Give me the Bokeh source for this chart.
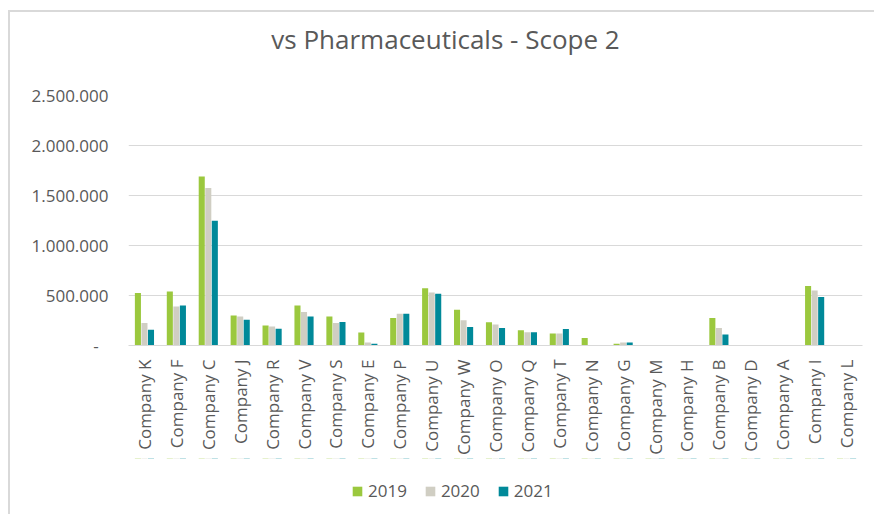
import math
from bokeh.plotting import figure
from bokeh.layouts import column
from bokeh.models import (ColumnDataSource, FactorRange, Range1d, FixedTicker,
                          CustomJSTickFormatter, Legend, LegendItem, Label)
from bokeh.transform import dodge
from bokeh.embed import file_html
from bokeh.resources import INLINE

companies = ["Company K", "Company F", "Company C", "Company J", "Company R", "Company V",
             "Company S", "Company E", "Company P", "Company U", "Company W", "Company O",
             "Company Q", "Company T", "Company N", "Company G", "Company M", "Company H",
             "Company B", "Company D", "Company A", "Company I", "Company L"]
v2019 = [524000, 540000, 1690000, 300000, 200000, 400000, 290000, 131000, 275000, 573000,
         358000, 232000, 152000, 119000, 76000, 17000, 3000, 3000, 275000, 3000, 3000, 596000, 3000]
v2020 = [224000, 390000, 1574000, 290000, 190000, 334000, 224000, 30000, 318000, 530000,
         252000, 209000, 132000, 119000, 3000, 30000, 3000, 3000, 176000, 3000, 3000, 550000, 3000]
v2021 = [157000, 400000, 1247000, 257000, 167000, 290000, 234000, 17000, 318000, 517000,
         186000, 176000, 132000, 166000, 3000, 30000, 3000, 3000, 109000, 3000, 3000, 484000, 3000]
series = ["2019", "2020", "2021"]
y_ticks = [0, 500000, 1000000, 1500000, 2000000, 2500000]
title_text = "vs Pharmaceuticals - Scope 2"

colors = ["#9BC83E", "#D0CEC3", "#008999"]
FONT = "Open Sans"
TXT = "#595959"
W = 864

src = ColumnDataSource(dict(company=companies, v2019=v2019, v2020=v2020, v2021=v2021))
x_range = FactorRange(*companies, range_padding=0)


def bare(height):
    f = figure(width=W, height=height, output_backend="svg", toolbar_location=None,
               x_range=x_range, y_range=Range1d(-5000000, -4000000),
               min_border_left=0, min_border_right=0, min_border_top=0, min_border_bottom=0)
    f.axis.visible = False
    f.grid.visible = False
    f.outline_line_color = None
    f.background_fill_color = "white"
    f.border_fill_color = "white"
    return f


# ---- title strip ----
pt = bare(71)
pt.add_layout(Label(x=317, y=45, x_units="screen", y_units="screen", text=title_text,
                    text_align="center", text_baseline="alphabetic", text_font=FONT,
                    text_font_size="26px", text_color=TXT))

# ---- main chart ----
p = figure(x_range=x_range, y_range=Range1d(0, 2500000),
           width=W, height=375, output_backend="svg", toolbar_location=None,
           min_border_left=118, min_border_right=12, min_border_top=12, min_border_bottom=112)
p.outline_line_color = None
p.background_fill_color = "white"
p.border_fill_color = "white"

offsets = [-0.205, 0.0, 0.205]
for s, c, off in zip(series, colors, offsets):
    p.vbar(x=dodge("company", off, range=x_range), top="v" + s, width=0.19,
           source=src, fill_color=c, line_color=None)

p.xgrid.grid_line_color = None
p.ygrid.grid_line_color = "#D9D9D9"
p.ygrid.grid_line_width = 1

p.yaxis.ticker = FixedTicker(ticks=y_ticks)
p.yaxis.formatter = CustomJSTickFormatter(code="""
if (tick == 0) { return "-\u2007"; }
return Math.round(tick).toString().replace(/\\B(?=(\\d{3})+(?!\\d))/g, ".");
""")
p.yaxis.axis_line_color = None
p.yaxis.major_tick_line_color = None
p.yaxis.minor_tick_line_color = None
p.yaxis.major_tick_out = 0
p.yaxis.major_label_standoff = 20
p.yaxis.major_label_text_font = FONT
p.yaxis.major_label_text_font_size = "17px"
p.yaxis.major_label_text_color = TXT

p.xaxis.axis_line_color = "#D9D9D9"
p.xaxis.axis_line_width = 1
p.xaxis.major_tick_line_color = None
p.xaxis.major_tick_out = 0
p.xaxis.major_label_standoff = 14
p.xaxis.major_label_orientation = math.pi / 2
p.xaxis.major_label_text_font = FONT
p.xaxis.major_label_text_font_size = "17px"
p.xaxis.major_label_text_color = TXT

# ---- legend strip (zero-height swatch glyphs, kept out of view, only used for the keys) ----
pl = bare(56)
swatches = []
for s, c, off in zip(series, colors, offsets):
    swatches.append(pl.vbar(x=dodge("company", off, range=x_range), top="v" + s,
                            bottom="v" + s, width=0.19, source=src,
                            fill_color=c, line_color=None))
legend = Legend(items=[LegendItem(label=s, renderers=[r]) for s, r in zip(series, swatches)],
                location=(223, 12), orientation="horizontal", padding=0, margin=0,
                spacing=17, glyph_width=12, glyph_height=12, label_standoff=5,
                label_text_font=FONT, label_text_font_size="17px", label_text_color=TXT,
                border_line_color=None, background_fill_alpha=0)
pl.add_layout(legend, "center")

layout = column(pt, p, pl, spacing=0)
layout.styles = {"margin-left": "8px", "margin-top": "10px",
                 "border-top": "2px solid #D9D9D9", "border-left": "2px solid #D9D9D9"}

open("out.html", "w").write(file_html(layout, INLINE))
